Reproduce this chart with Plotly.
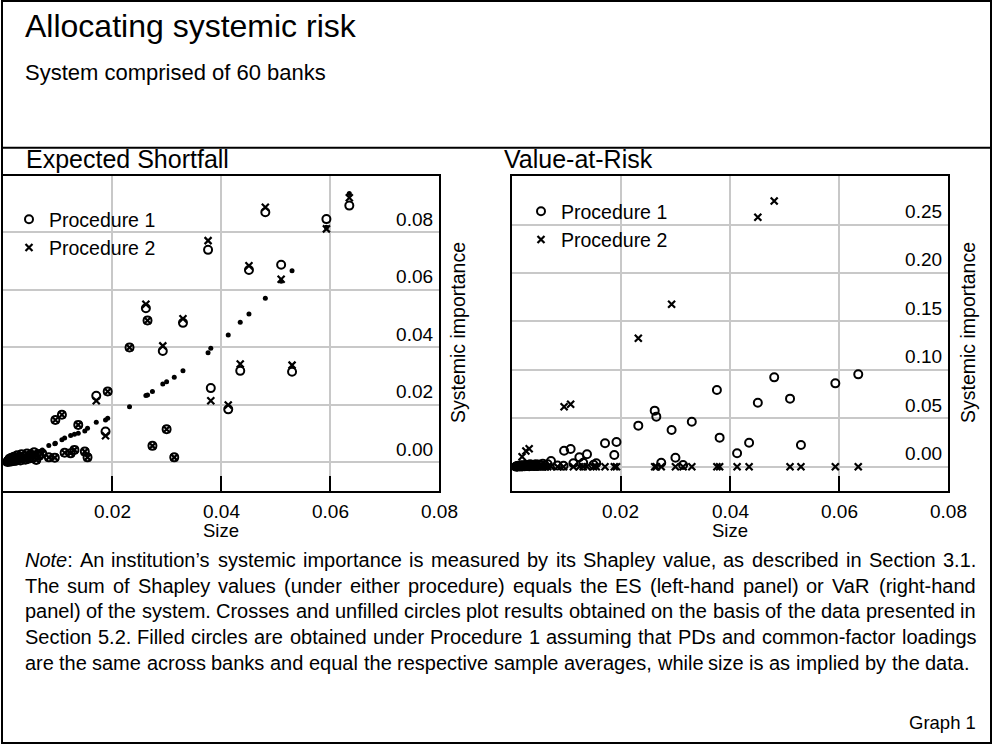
import re
import plotly.graph_objects as go

W, H = 993, 745

# ---------------- data ----------------
size = [0.0635, 0.0593, 0.0530, 0.0510, 0.0481, 0.0451, 0.0435, 0.0413, 0.0381, 0.0376,
        0.0330, 0.0314, 0.0300, 0.0293, 0.0274, 0.0265, 0.0262, 0.0232, 0.0192, 0.0188,
        0.0171, 0.0155, 0.0150, 0.0138, 0.0131, 0.0124, 0.0113, 0.0108, 0.0096, 0.0095,
        0.0084, 0.0072, 0.0066, 0.0061, 0.0057, 0.0053, 0.0050, 0.0047, 0.0044, 0.0041,
        0.0038, 0.0036, 0.0034, 0.0032, 0.0030, 0.0028, 0.0026, 0.0024, 0.0022, 0.0020,
        0.0019, 0.0017, 0.0016, 0.0015, 0.0013, 0.0012, 0.0011, 0.0010, 0.0009, 0.0008]

es_proc1 = [0.0893, 0.0846, 0.0315, 0.0687, 0.0870, 0.0669, 0.0318, 0.0184, 0.0258, 0.0739,
            0.0485, 0.0017, 0.0115, 0.0387, 0.0057, 0.0493, 0.0536, 0.0399, 0.0246, 0.0107,
            0.0231, 0.0017, 0.0037, 0.0130, 0.0043, 0.0031, 0.0033, 0.0165, 0.0147, 0.0016,
            0.0017, 0.0030, 0.0022, 0.0008, 0.0035, 0.0015, 0.0026, 0.0012, 0.0030, 0.0009,
            0.0020, 0.0014, 0.0028, 0.0006, 0.0018, 0.0010, 0.0024, 0.0005, 0.0013, 0.0019,
            0.0004, 0.0011, 0.0016, 0.0003, 0.0008, 0.0012, 0.0002, 0.0006, 0.0004, 0.0001]

es_proc2 = [0.0920, 0.0812, 0.0338, 0.0637, 0.0887, 0.0684, 0.0342, 0.0199, 0.0214, 0.0771,
            0.0499, 0.0017, 0.0115, 0.0405, 0.0057, 0.0493, 0.0550, 0.0399, 0.0246, 0.0092,
            0.0214, 0.0017, 0.0037, 0.0130, 0.0043, 0.0031, 0.0033, 0.0165, 0.0147, 0.0016,
            0.0017, 0.0030, 0.0022, 0.0008, 0.0035, 0.0015, 0.0026, 0.0012, 0.0030, 0.0009,
            0.0020, 0.0014, 0.0028, 0.0006, 0.0018, 0.0010, 0.0024, 0.0005, 0.0013, 0.0019,
            0.0004, 0.0011, 0.0016, 0.0003, 0.0008, 0.0012, 0.0002, 0.0006, 0.0004, 0.0001]

es_homog = [0.0935, 0.0818, 0.0666, 0.0630, 0.0571, 0.0516, 0.0487, 0.0443, 0.0397, 0.0381,
            0.0318, 0.0296, 0.0280, 0.0272, 0.0246, 0.0234, 0.0232, 0.0193, 0.0153, 0.0147,
            0.0139, 0.0118, 0.0109, 0.0101, 0.0097, 0.0093, 0.0084, 0.0078, 0.0066, 0.0064,
            0.0058, 0.0043, 0.0037, 0.0033, 0.0030, 0.0028, 0.0026, 0.0024, 0.0022, 0.0020,
            0.0018, 0.0017, 0.0016, 0.0015, 0.0014, 0.0013, 0.0012, 0.0011, 0.0010, 0.0009,
            0.0008, 0.0008, 0.0007, 0.0007, 0.0006, 0.0005, 0.0005, 0.0004, 0.0004, 0.0003]

var_proc1 = [0.0954, 0.0861, 0.0224, 0.0703, 0.0923, 0.0661, 0.0248, 0.0138, 0.0300, 0.0792,
             0.0465, 0.0018, 0.0093, 0.0379, 0.0041, 0.0517, 0.0579, 0.0424, 0.0255, 0.0121,
             0.0242, 0.0035, 0.0020, 0.0128, 0.0040, 0.0097, 0.0035, 0.0182, 0.0165, 0.0010,
             0.0012, 0.0059, 0.0025, 0.0010, 0.0030, 0.0015, 0.0022, 0.0008, 0.0026, 0.0006,
             0.0018, 0.0012, 0.0024, 0.0005, 0.0015, 0.0008, 0.0020, 0.0004, 0.0010, 0.0016,
             0.0003, 0.0009, 0.0013, 0.0002, 0.0006, 0.0010, 0.0002, 0.0005, 0.0003, 0.0001]

var_proc2 = [0.0000, 0.0000, 0.0000, 0.0000, 0.2745, 0.2576, 0.0000, 0.0000, 0.0000, 0.0000,
             0.0000, 0.0000, 0.0000, 0.1678, 0.0000, 0.0000, 0.0000, 0.1326, 0.0000, 0.0000,
             0.0000, 0.0000, 0.0000, 0.0000, 0.0000, 0.0000, 0.0000, 0.0645, 0.0620, 0.0000,
             0.0000, 0.0000, 0.0000, 0.0000, 0.0000, 0.0000, 0.0000, 0.0000, 0.0000, 0.0000,
             0.0000, 0.0000, 0.0000, 0.0185, 0.0000, 0.0000, 0.0162, 0.0000, 0.0000, 0.0000,
             0.0103, 0.0000, 0.0000, 0.0000, 0.0000, 0.0000, 0.0000, 0.0000, 0.0000, 0.0000]

x_ticks = [0.02, 0.04, 0.06, 0.08]
x_tick_labels = ["0.02", "0.04", "0.06", "0.08"]
es_ticks = [0.00, 0.02, 0.04, 0.06, 0.08]
es_tick_labels = ["0.00", "0.02", "0.04", "0.06", "0.08"]
var_ticks = [0.00, 0.05, 0.10, 0.15, 0.20, 0.25]
var_tick_labels = ["0.00", "0.05", "0.10", "0.15", "0.20", "0.25"]

title = "Allocating systemic risk"
subtitle = "System comprised of 60 banks"
panel_titles = ["Expected Shortfall", "Value-at-Risk"]
note_lines = [
    "<i>Note</i>: An institution\u2019s systemic importance is measured by its Shapley value, as described in Section 3.1.",
    "The sum of Shapley values (under either procedure) equals the ES (left-hand panel) or VaR (right-hand",
    "panel) of the system. Crosses and unfilled circles plot results obtained on the basis of the data presented in",
    "Section 5.2. Filled circles are obtained under Procedure 1 assuming that PDs and common-factor loadings",
    "are the same across banks and equal the respective sample averages, while size is as implied by the data.",
]

# ---------------- helpers ----------------
FONT = "Arial, Liberation Sans, sans-serif"

# Arial / Liberation Sans advance widths (1/1000 em), used to justify the note text
ADV = {" ": 278, "(": 333, ")": 333, "-": 333, ",": 278, ".": 278, ":": 278, "\u2019": 222,
       "A": 667, "B": 667, "C": 722, "D": 722, "E": 667, "F": 611, "G": 778, "H": 722,
       "I": 278, "J": 500, "K": 667, "L": 556, "M": 833, "N": 722, "O": 778, "P": 667,
       "Q": 778, "R": 722, "S": 667, "T": 611, "U": 722, "V": 667, "W": 944, "X": 667,
       "Y": 667, "Z": 611, "a": 556, "b": 556, "c": 500, "d": 556, "e": 556, "f": 278,
       "g": 556, "h": 556, "i": 222, "j": 222, "k": 500, "l": 222, "m": 833, "n": 556,
       "o": 556, "p": 556, "q": 556, "r": 333, "s": 500, "t": 278, "u": 556, "v": 500,
       "w": 722, "x": 500, "y": 500, "z": 500}


def text_w(s, fs):
    s = re.sub(r"<[^>]+>", "", s)
    return sum(ADV.get(c, 556) for c in s) / 1000.0 * fs


def px(x):
    return x / W


def py(y):
    return 1 - y / H


open_circle = dict(symbol="circle-open", size=8, color="black", line=dict(color="black", width=2))
cross = dict(symbol="x-thin-open", size=7, color="black", line=dict(color="black", width=2.2))
dot = dict(symbol="circle", size=5, color="black", line=dict(width=0))

fig = go.Figure()
# left panel: expected shortfall
fig.add_trace(go.Scatter(x=size, y=es_homog, mode="markers", marker=dot, showlegend=False,
                         xaxis="x", yaxis="y", hoverinfo="skip"))
fig.add_trace(go.Scatter(x=size, y=es_proc1, mode="markers", marker=open_circle, name="Procedure 1",
                         xaxis="x", yaxis="y", legend="legend"))
fig.add_trace(go.Scatter(x=size, y=es_proc2, mode="markers", marker=cross, name="Procedure 2",
                         xaxis="x", yaxis="y", legend="legend"))
# right panel: value-at-risk
fig.add_trace(go.Scatter(x=size, y=var_proc1, mode="markers", marker=open_circle, name="Procedure 1",
                         xaxis="x2", yaxis="y2", legend="legend2"))
fig.add_trace(go.Scatter(x=size, y=var_proc2, mode="markers", marker=cross, name="Procedure 2",
                         xaxis="x2", yaxis="y2", legend="legend2"))

GRID = "#c8c8c8"
ydom = [py(490.7), py(175.7)]

xaxis_common = dict(range=[0, 0.08], tickvals=x_ticks, showticklabels=False,
                    ticks="inside", ticklen=15, tickwidth=2, tickcolor="black",
                    showgrid=True, gridcolor=GRID, gridwidth=1.5,
                    showline=True, mirror=True, linewidth=2, linecolor="black",
                    zeroline=False, fixedrange=True)
yaxis_common = dict(side="right", ticks="", ticklabelposition="inside top",
                    showgrid=True, gridcolor=GRID, gridwidth=1.5,
                    showline=True, mirror=True, linewidth=2, linecolor="black",
                    zeroline=False, tickfont=dict(size=19, color="black", family=FONT),
                    ticklabelstandoff=6, fixedrange=True)

fig.update_layout(
    width=W, height=H,
    margin=dict(l=0, r=0, t=0, b=0),
    paper_bgcolor="white", plot_bgcolor="white",
    font=dict(family=FONT, color="black"),
    xaxis=dict(domain=[px(3), px(439.3)], anchor="y", **xaxis_common),
    yaxis=dict(domain=ydom, anchor="x", range=[-0.0099, 0.0997],
               tickvals=es_ticks, ticktext=es_tick_labels, **yaxis_common),
    xaxis2=dict(domain=[px(511.7), px(948.3)], anchor="y2", **xaxis_common),
    yaxis2=dict(domain=ydom, anchor="x2", range=[-0.0248, 0.3006],
                tickvals=var_ticks, ticktext=var_tick_labels, **yaxis_common),
    legend=dict(x=px(9), y=py(200), xanchor="left", yanchor="top",
                bgcolor="rgba(0,0,0,0)", font=dict(size=19.5, family=FONT),
                itemclick=False, itemdoubleclick=False, tracegroupgap=0),
    legend2=dict(x=px(521), y=py(192), xanchor="left", yanchor="top",
                 bgcolor="rgba(0,0,0,0)", font=dict(size=19.5, family=FONT),
                 itemclick=False, itemdoubleclick=False, tracegroupgap=0),
    showlegend=True,
)

ann = []
ann.append(dict(text=title, x=px(25), y=py(26), xanchor="left", yanchor="middle",
                font=dict(size=32)))
ann.append(dict(text=subtitle, x=px(25), y=py(72), xanchor="left", yanchor="middle",
                font=dict(size=22)))
ann.append(dict(text=panel_titles[0], x=px(26), y=py(159), xanchor="left", yanchor="middle",
                font=dict(size=25)))
ann.append(dict(text=panel_titles[1], x=px(504), y=py(159), xanchor="left", yanchor="middle",
                font=dict(size=25)))
# x tick labels, positioned through each panel's x scale
for xref in ("x", "x2"):
    for v, t in zip(x_ticks, x_tick_labels):
        ann.append(dict(text=t, x=v, xref=xref, y=py(511), yref="paper", xanchor="center",
                        yanchor="middle", font=dict(size=19)))
for xc in (221, 730):
    ann.append(dict(text="Size", x=px(xc), y=py(530), xanchor="center", yanchor="middle",
                    font=dict(size=18.5)))
for xc in (458, 968):
    ann.append(dict(text="Systemic importance", x=px(xc), y=py(333), xanchor="center",
                    yanchor="middle", textangle=-90, font=dict(size=19.5)))

# justified note paragraph (last line left-aligned)
NOTE_FS = 20
LEFT, RIGHT = 24.5, 976
for i, line in enumerate(note_lines):
    words = line.split(" ")
    widths = [text_w(w, NOTE_FS) for w in words]
    if i < len(note_lines) - 1:
        gap = (RIGHT - LEFT - sum(widths)) / (len(words) - 1)
    else:
        gap = text_w(" ", NOTE_FS)
    xcur = LEFT
    for w, wd in zip(words, widths):
        ann.append(dict(text=w, x=px(xcur), y=py(560 + 25.7 * i), xanchor="left",
                        yanchor="middle", font=dict(size=NOTE_FS)))
        xcur += wd + gap

ann.append(dict(text="Graph 1", x=px(976), y=py(722), xanchor="right", yanchor="middle",
                font=dict(size=18.5)))
for a in ann:
    a.setdefault("xref", "paper")
    a.setdefault("yref", "paper")
    a["showarrow"] = False
    a["borderpad"] = 0
    a["borderwidth"] = 0
    a["font"].setdefault("color", "black")
fig.update_layout(annotations=ann)

shapes = [
    dict(type="rect", x0=px(2), y0=py(743), x1=px(991), y1=py(1),
         line=dict(color="black", width=2)),
    dict(type="line", x0=px(2), y0=py(147.7), x1=px(991), y1=py(147.7),
         line=dict(color="black", width=2)),
]
for s in shapes:
    s.update(xref="paper", yref="paper", layer="above")
fig.update_layout(shapes=shapes)

fig.write_html(
    "out.html",
    config={"displayModeBar": False, "responsive": False},
    post_script=("document.documentElement.style.overflow='hidden';"
                 "document.body.style.margin='0px';document.body.style.padding='0px';"
                 "document.body.style.overflow='hidden';"),
)
